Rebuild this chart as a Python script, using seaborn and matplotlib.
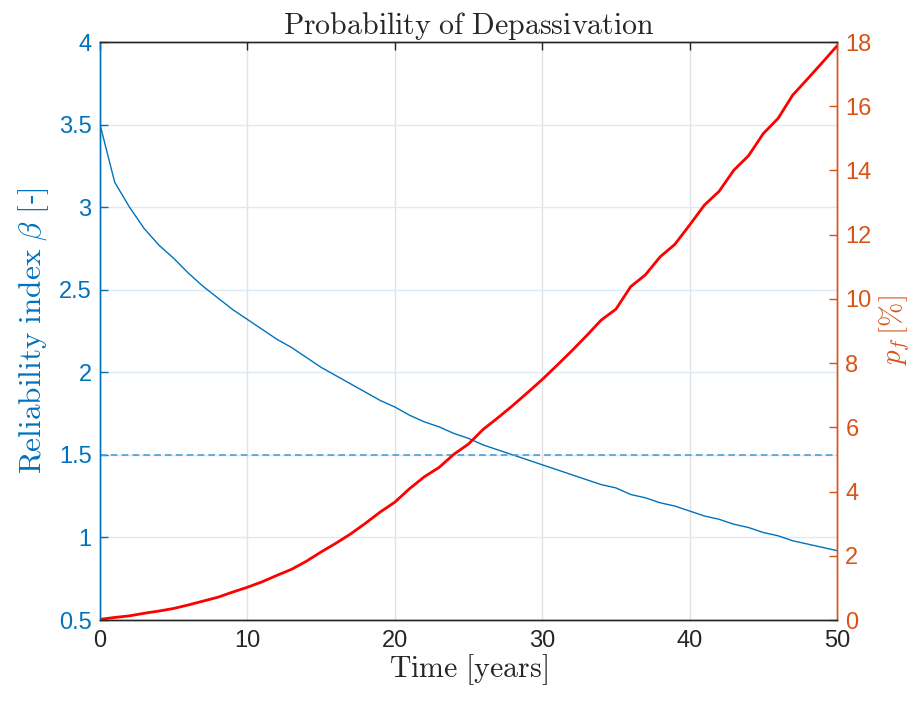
import numpy as np
import pandas as pd
import matplotlib
matplotlib.use("Agg")
import matplotlib.pyplot as plt
import seaborn as sns

# values
years = list(range(0, 51))
beta = [3.50, 3.15, 3.00, 2.87, 2.77, 2.69, 2.60, 2.52, 2.45, 2.38,
        2.32, 2.26, 2.20, 2.15, 2.09, 2.03, 1.98, 1.93, 1.88, 1.83,
        1.79, 1.74, 1.70, 1.67, 1.63, 1.60, 1.56, 1.53, 1.50, 1.47,
        1.44, 1.41, 1.38, 1.35, 1.32, 1.30, 1.26, 1.24, 1.21, 1.19,
        1.16, 1.13, 1.11, 1.08, 1.06, 1.03, 1.01, 0.98, 0.96, 0.94,
        0.92]
pf = [0.02, 0.08, 0.13, 0.21, 0.28, 0.36, 0.47, 0.59, 0.71, 0.87,
      1.02, 1.19, 1.39, 1.58, 1.83, 2.12, 2.39, 2.68, 3.01, 3.36,
      3.67, 4.09, 4.46, 4.75, 5.16, 5.48, 5.94, 6.30, 6.68, 7.08,
      7.49, 7.93, 8.38, 8.85, 9.34, 9.68, 10.38, 10.75, 11.31, 11.70,
      12.30, 12.92, 13.35, 14.01, 14.46, 15.15, 15.62, 16.35, 16.85, 17.36,
      17.88]
beta_target = 1.5

df = pd.DataFrame({"t": years, "beta": beta, "pf": pf})

sns.set_style("white")
plt.rcParams["font.family"] = ["Liberation Sans", "DejaVu Sans"]
plt.rcParams["mathtext.fontset"] = "cm"

blue = "#0072BD"
orange = "#D95319"

fig = plt.figure(figsize=(9.21, 7.04), dpi=100)
ax = fig.add_axes([0.1086, 0.1193, 0.8002, 0.8210])
ax2 = ax.twinx()

sns.lineplot(data=df, x="t", y="beta", ax=ax, color=blue, lw=1.0)
ax.axhline(beta_target, color="#4D9FD6", lw=1.2, ls=(0, (4, 2.5)))
sns.lineplot(data=df, x="t", y="pf", ax=ax2, color="red", lw=2.0)

ax.set_xlim(0, 50)
ax.set_ylim(0.5, 4)
ax.set_xticks(np.arange(0, 51, 10))
ax.set_yticks(np.arange(0.5, 4.01, 0.5))
ax.set_yticklabels(["0.5", "1", "1.5", "2", "2.5", "3", "3.5", "4"])
ax2.set_ylim(0, 18)
ax2.set_yticks(np.arange(0, 19, 2))

# grid lines (MATLAB-like)
for xv in range(10, 50, 10):
    ax.axvline(xv, color="#E3E3E3", lw=1.0, zorder=0)
for yv in np.arange(1.0, 4.0, 0.5):
    ax.axhline(yv, color="#DCEAF6", lw=1.0, zorder=0)

ax.tick_params(axis="x", direction="in", length=6, width=1, colors="#262626",
               labelsize=17, top=True, pad=7)
ax.tick_params(axis="y", direction="in", length=6, width=1, colors=blue,
               labelsize=17, pad=6)
ax2.tick_params(axis="y", direction="in", length=6, width=1, colors=orange,
                labelsize=17, pad=6)

for a in (ax, ax2):
    a.spines["top"].set_color("#262626")
    a.spines["bottom"].set_color("#262626")
    a.spines["left"].set_color(blue)
    a.spines["right"].set_color(orange)
    for s in a.spines.values():
        s.set_linewidth(1.0)

ax.set_xlabel(r"$\mathrm{Time\ [years]}$", fontsize=21.5, color="#262626", labelpad=0)
ax.set_ylabel(r"$\mathrm{Reliability\ index}\ \beta\ \mathrm{[}$-$\mathrm{]}$",
              fontsize=22.5, color=blue, labelpad=6)
ax2.set_ylabel(r"$p_f\,[\%]$", fontsize=21, color=orange, labelpad=4)
ax.set_title(r"$\mathrm{Probability\ of\ Depassivation}$", fontsize=21.5,
             color="#262626", pad=5)

fig.savefig("out.png", dpi=100)
